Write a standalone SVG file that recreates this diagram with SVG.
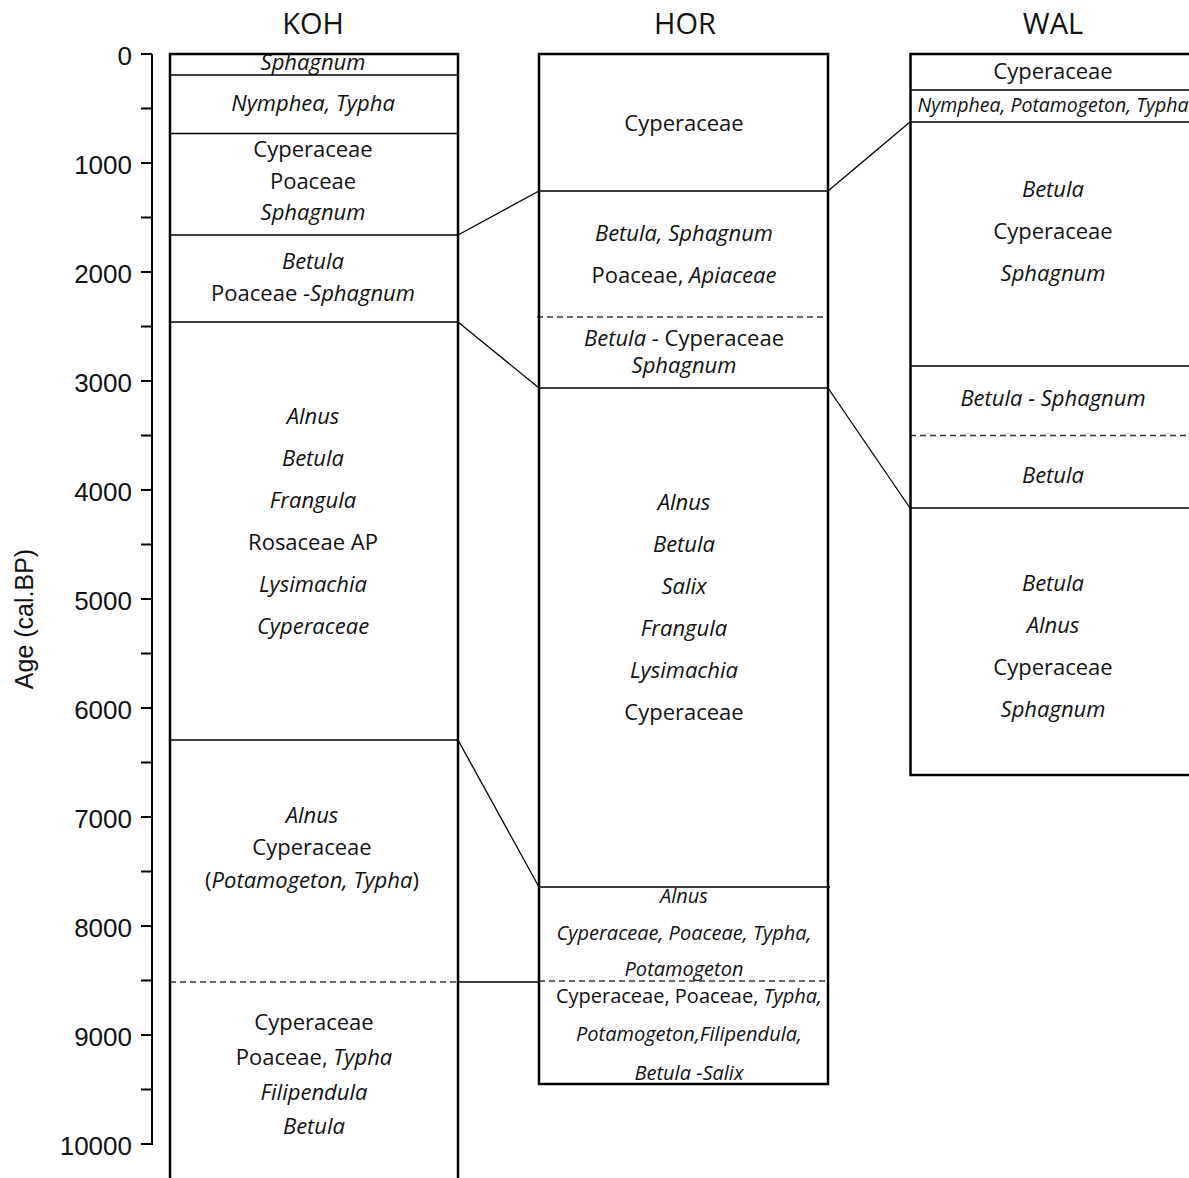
<svg xmlns="http://www.w3.org/2000/svg" width="1189" height="1178" viewBox="0 0 1189 1178">
<style>
.t{font-family:"Open Sans","Noto Sans",sans-serif;font-size:22px;text-anchor:middle;fill:#111}
.i{font-style:italic}
.s{font-size:20px}
.ax{font-family:"Liberation Sans",Arial,sans-serif;font-size:26px;text-anchor:end;fill:#111}
.lab{font-family:"Liberation Sans",Arial,sans-serif;font-size:25px;text-anchor:middle;fill:#111}
.title{font-family:"Open Sans","Noto Sans",sans-serif;font-size:29px;text-anchor:middle;fill:#111}
.box{fill:none;stroke:#000;stroke-width:2.5}
.div{stroke:#000;stroke-width:1.5;fill:none}
.dash{stroke:#333;stroke-width:1.3;stroke-dasharray:6 4;fill:none}
.conn{stroke:#000;stroke-width:1.3;fill:none}
.tick{stroke:#000;stroke-width:2;fill:none}
</style>
<rect width="1189" height="1178" fill="#fff"/>

<g id="axis">
<line class="tick" x1="152" y1="54" x2="152" y2="1145"/>
<path class="tick" d="M141 54H152M141 108.5H152M141 163H152M141 217.5H152M141 272H152M141 326.5H152M141 381H152M141 435.5H152M141 490H152M141 544.5H152M141 599H152M141 653.5H152M141 708H152M141 762.5H152M141 817H152M141 871.5H152M141 926H152M141 980.5H152M141 1035H152M141 1089.5H152M141 1144H152"/>
<text class="ax" x="132" y="65">0</text>
<text class="ax" x="132" y="174">1000</text>
<text class="ax" x="132" y="283">2000</text>
<text class="ax" x="132" y="392">3000</text>
<text class="ax" x="132" y="501">4000</text>
<text class="ax" x="132" y="610">5000</text>
<text class="ax" x="132" y="719">6000</text>
<text class="ax" x="132" y="828">7000</text>
<text class="ax" x="132" y="937">8000</text>
<text class="ax" x="132" y="1046">9000</text>
<text class="ax" x="132" y="1155">10000</text>
<text class="lab" transform="translate(33,619) rotate(-90)">Age (cal.BP)</text>
</g>

<g id="KOH">
<text class="title" x="313" y="34">KOH</text>
<text class="t i" x="313" y="70">Sphagnum</text>
<text class="t i" x="313" y="111">Nymphea, Typha</text>
<text class="t" x="313" y="157">Cyperaceae</text>
<text class="t" x="313" y="189">Poaceae</text>
<text class="t i" x="313" y="220">Sphagnum</text>
<text class="t i" x="313" y="269">Betula</text>
<text class="t" x="313" y="301">Poaceae -<tspan class="i">Sphagnum</tspan></text>
<text class="t i" x="313" y="424">Alnus</text>
<text class="t i" x="313" y="466">Betula</text>
<text class="t i" x="313" y="508">Frangula</text>
<text class="t" x="313" y="550">Rosaceae AP</text>
<text class="t i" x="313" y="592">Lysimachia</text>
<text class="t i" x="313" y="634">Cyperaceae</text>
<text class="t i" x="312" y="823">Alnus</text>
<text class="t" x="312" y="855">Cyperaceae</text>
<text class="t" x="312" y="888">(<tspan class="i">Potamogeton, Typha</tspan>)</text>
<text class="t" x="314" y="1030">Cyperaceae</text>
<text class="t" x="314" y="1065">Poaceae, <tspan class="i">Typha</tspan></text>
<text class="t i" x="314" y="1100">Filipendula</text>
<text class="t i" x="314" y="1134">Betula</text>
<path class="div" d="M170 75H458M170 133.5H458M170 235H458M170 322H458M170 740H458"/>
<path class="dash" d="M170 982H458"/>
<rect class="box" x="170" y="54" width="288" height="1150"/>
</g>

<g id="HOR">
<text class="title" x="685" y="34">HOR</text>
<text class="t" x="684" y="131">Cyperaceae</text>
<text class="t i" x="684" y="241">Betula, Sphagnum</text>
<text class="t" x="684" y="283">Poaceae, <tspan class="i">Apiaceae</tspan></text>
<text class="t" x="684" y="346"><tspan class="i">Betula</tspan> - Cyperaceae</text>
<text class="t i" x="684" y="373">Sphagnum</text>
<text class="t i" x="684" y="510">Alnus</text>
<text class="t i" x="684" y="552">Betula</text>
<text class="t i" x="684" y="594">Salix</text>
<text class="t i" x="684" y="636">Frangula</text>
<text class="t i" x="684" y="678">Lysimachia</text>
<text class="t" x="684" y="720">Cyperaceae</text>
<text class="t i s" x="684" y="903">Alnus</text>
<text class="t i s" x="684" y="940">Cyperaceae, Poaceae, Typha,</text>
<text class="t i s" x="684" y="976">Potamogeton</text>
<text class="t s" x="689" y="1003">Cyperaceae, Poaceae, <tspan class="i">Typha,</tspan></text>
<text class="t i s" x="689" y="1041">Potamogeton,Filipendula,</text>
<text class="t i s" x="689" y="1080">Betula -Salix</text>
<path class="div" d="M539 191H828M539 388H828M539 887H830"/>
<path class="dash" d="M537 317H828M539 981H828"/>
<rect class="box" x="539" y="54" width="289" height="1030"/>
</g>

<g id="WAL">
<text class="title" x="1053" y="34">WAL</text>
<text class="t" x="1053" y="79">Cyperaceae</text>
<text class="t i" x="1053" y="112" style="font-size:19.5px">Nymphea, Potamogeton, Typha</text>
<text class="t i" x="1053" y="197">Betula</text>
<text class="t" x="1053" y="239">Cyperaceae</text>
<text class="t i" x="1053" y="281">Sphagnum</text>
<text class="t i" x="1053" y="406">Betula - Sphagnum</text>
<text class="t i" x="1053" y="483">Betula</text>
<text class="t i" x="1053" y="591">Betula</text>
<text class="t i" x="1053" y="633">Alnus</text>
<text class="t" x="1053" y="675">Cyperaceae</text>
<text class="t i" x="1053" y="717">Sphagnum</text>
<path class="div" d="M910 90H1189M910 122H1189M910 366H1189M910 508H1189"/>
<path class="dash" d="M910 435.5H1189"/>
<rect class="box" x="910.5" y="54" width="300" height="721"/>
</g>

<g id="connectors">
<path class="conn" d="M458 235L539 191"/>
<path class="conn" d="M458 322L539 388"/>
<path class="conn" d="M458 740L539 887"/>
<path class="conn" d="M458 982H539"/>
<path class="conn" d="M828 191L910 122"/>
<path class="conn" d="M828 388L910 508"/>
</g>
</svg>
